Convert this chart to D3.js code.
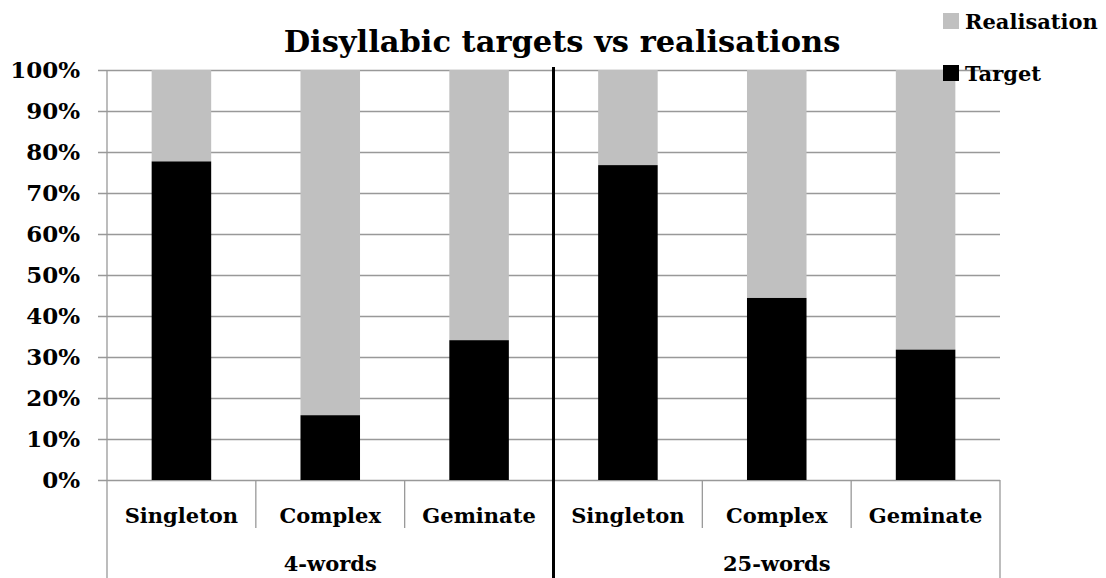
<!DOCTYPE html>
<html>
<head>
<meta charset="utf-8">
<script src="https://cdn.jsdelivr.net/npm/d3@7"></script>
<style>
  body { margin: 0; background: #fff; }
  text { font-family: "DejaVu Serif", serif; font-weight: bold; fill: #000; }
</style>
</head>
<body>
<script>
// chart values
var groups = ["4-words", "25-words"];
var categories = ["Singleton", "Complex", "Geminate"];
var target = [77.7, 15.8, 34.1, 76.8, 44.4, 31.8];
var realisation = [22.3, 84.2, 65.9, 23.2, 55.6, 68.2];
var yTicks = [0, 10, 20, 30, 40, 50, 60, 70, 80, 90, 100];

var width = 1106, height = 578;
var plotLeft = 107, plotRight = 1000, plotTop = 70, plotBottom = 480;

var svg = d3.select("body").append("svg")
  .attr("width", width)
  .attr("height", height);

// flat list of bars, one per group/category pair
var rows = [];
groups.forEach(function(g, gi) {
  categories.forEach(function(c, ci) {
    var i = gi * categories.length + ci;
    rows.push({ key: g + "|" + c, group: g, cat: c, target: target[i], real: realisation[i] });
  });
});

var x = d3.scaleBand()
  .domain(rows.map(function(d) { return d.key; }))
  .range([plotLeft, plotRight])
  .paddingInner(0.6)
  .paddingOuter(0.3);

var y = d3.scaleLinear().domain([0, 100]).range([plotBottom, plotTop]);

// gridlines + y labels
var yaxis = d3.axisLeft(y)
  .tickValues(yTicks)
  .tickSize(-(plotRight - plotLeft))
  .tickPadding(27)
  .tickFormat(function(d) { return d + "%"; });

var ga = svg.append("g")
  .attr("transform", "translate(" + plotLeft + ",0)")
  .call(yaxis);
ga.select(".domain").remove();
ga.selectAll(".tick line")
  .attr("x1", -9)
  .attr("stroke", "#999")
  .attr("stroke-width", 1.3);
ga.selectAll(".tick text")
  .style("font-size", "23px")
  .style("font-family", "DejaVu Serif, serif")
  .style("font-weight", "bold")
  .attr("fill", "#000");

// bars: target at bottom, realisation stacked on top
svg.selectAll(".real").data(rows).enter().append("rect")
  .attr("class", "real")
  .attr("x", function(d) { return x(d.key); })
  .attr("width", x.bandwidth())
  .attr("y", function(d) { return y(d.target + d.real); })
  .attr("height", function(d) { return y(d.target) - y(d.target + d.real); })
  .attr("fill", "#c0c0c0");

svg.selectAll(".targ").data(rows).enter().append("rect")
  .attr("class", "targ")
  .attr("x", function(d) { return x(d.key); })
  .attr("width", x.bandwidth())
  .attr("y", function(d) { return y(d.target); })
  .attr("height", function(d) { return y(0) - y(d.target); })
  .attr("fill", "#000");

// y axis line down through category area
svg.append("line")
  .attr("x1", plotLeft).attr("x2", plotLeft)
  .attr("y1", plotTop).attr("y2", height)
  .attr("stroke", "#999").attr("stroke-width", 1.3);

// category boundaries
var step = x.step();
var bounds = d3.range(rows.length + 1).map(function(i) { return plotLeft + i * step; });
svg.selectAll(".ctick").data(bounds.slice(1)).enter().append("line")
  .attr("class", "ctick")
  .attr("x1", function(d) { return d; }).attr("x2", function(d) { return d; })
  .attr("y1", plotBottom)
  .attr("y2", function(d, i) { return (i + 1) % categories.length === 0 ? height : 528; })
  .attr("stroke", "#999").attr("stroke-width", 1.3);

// category labels
svg.selectAll(".clab").data(rows).enter().append("text")
  .attr("class", "clab")
  .attr("x", function(d) { return x(d.key) + x.bandwidth() / 2; })
  .attr("y", 523)
  .attr("text-anchor", "middle")
  .style("font-size", "21px")
  .text(function(d) { return d.cat; });

// group labels
svg.selectAll(".glab").data(groups).enter().append("text")
  .attr("class", "glab")
  .attr("x", function(d, i) { return plotLeft + (i + 0.5) * categories.length * step; })
  .attr("y", 571)
  .attr("text-anchor", "middle")
  .style("font-size", "21px")
  .text(function(d) { return d; });

// thick divider between the two groups
svg.append("line")
  .attr("x1", plotLeft + categories.length * step).attr("x2", plotLeft + categories.length * step)
  .attr("y1", 67).attr("y2", height)
  .attr("stroke", "#000").attr("stroke-width", 3);

// title
svg.append("text")
  .attr("x", 562)
  .attr("y", 52)
  .attr("text-anchor", "middle")
  .style("font-size", "30.5px")
  .text("Disyllabic targets vs realisations");

// legend
var legend = [
  { name: "Realisation", color: "#c0c0c0", y: 21 },
  { name: "Target", color: "#000", y: 73 }
];
var lg = svg.selectAll(".leg").data(legend).enter().append("g")
  .attr("transform", function(d) { return "translate(943," + d.y + ")"; });
lg.append("rect")
  .attr("x", 0).attr("y", -8)
  .attr("width", 16).attr("height", 16)
  .attr("fill", function(d) { return d.color; });
lg.append("text")
  .attr("x", 22)
  .attr("y", 7.5)
  .style("font-size", "21px")
  .text(function(d) { return d.name; });
</script>
</body>
</html>
